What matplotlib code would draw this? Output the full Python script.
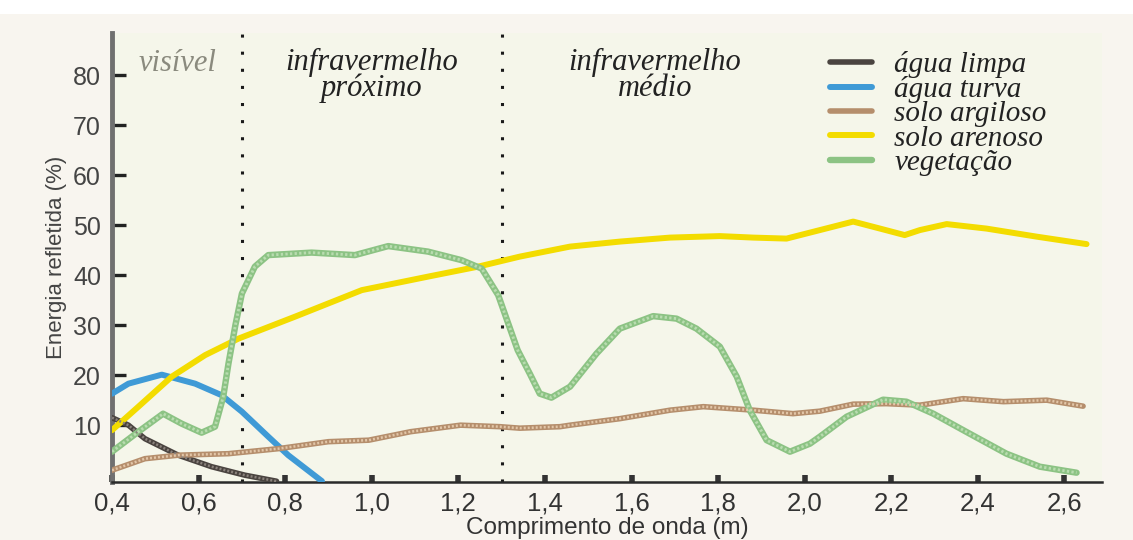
import matplotlib
matplotlib.use("Agg")
import matplotlib.pyplot as plt
from matplotlib.patches import Rectangle

# ---- data ----
x_limpa = [0.40, 0.438, 0.476, 0.553, 0.630, 0.707, 0.78]
y_limpa = [11.5, 10.0, 7.3, 4.0, 1.7, 0.0, -1.2]

x_turva = [0.40, 0.438, 0.515, 0.592, 0.653, 0.700, 0.761, 0.807, 0.885]
y_turva = [16.3, 18.3, 20.1, 18.3, 16.0, 12.7, 7.7, 4.0, -1.2]

x_argiloso = [0.40, 0.476, 0.553, 0.669, 0.784, 0.900, 0.993, 1.090, 1.205, 1.296,
              1.342, 1.435, 1.458, 1.573, 1.689, 1.766, 1.881, 1.973, 2.035, 2.112,
              2.189, 2.266, 2.366, 2.459, 2.559, 2.643]
y_argiloso = [1.0, 3.3, 4.0, 4.3, 5.3, 6.7, 7.0, 8.7, 10.0, 9.7,
              9.4, 9.7, 10.0, 11.3, 13.0, 13.7, 13.0, 12.3, 12.8, 14.2,
              14.3, 14.0, 15.3, 14.7, 15.0, 13.8]

x_arenoso = [0.40, 0.461, 0.538, 0.615, 0.692, 0.823, 0.977, 1.130, 1.246, 1.342,
             1.458, 1.573, 1.689, 1.804, 1.881, 1.958, 2.035, 2.112, 2.174, 2.231,
             2.266, 2.328, 2.420, 2.535, 2.651]
y_arenoso = [9.0, 13.7, 19.7, 24.0, 27.3, 31.7, 37.0, 39.7, 41.7, 43.7,
             45.7, 46.7, 47.5, 47.8, 47.5, 47.3, 49.0, 50.7, 49.3, 48.0,
             49.0, 50.2, 49.3, 47.7, 46.2]

x_veg = [0.40, 0.461, 0.518, 0.561, 0.607, 0.638, 0.657, 0.669, 0.685, 0.700,
         0.730, 0.761, 0.861, 0.961, 1.038, 1.130, 1.207, 1.254, 1.292, 1.337,
         1.365, 1.388, 1.415, 1.458, 1.519, 1.573, 1.650, 1.704, 1.750, 1.804,
         1.843, 1.873, 1.912, 1.966, 2.012, 2.035, 2.097, 2.181, 2.235, 2.297,
         2.381, 2.466, 2.543, 2.628]
y_veg = [4.7, 8.7, 12.3, 10.3, 8.5, 9.7, 15.7, 22.3, 30.0, 36.3,
         41.7, 44.0, 44.5, 44.0, 45.8, 44.7, 43.0, 41.3, 36.0, 25.0,
         20.3, 16.3, 15.5, 17.7, 24.3, 29.3, 31.8, 31.3, 29.3, 25.7,
         19.7, 13.0, 7.0, 4.7, 6.3, 7.7, 11.7, 15.1, 14.7, 12.3,
         8.3, 4.3, 1.7, 0.5]

region_bounds = [0.70, 1.30]
x_ticks = [0.4, 0.6, 0.8, 1.0, 1.2, 1.4, 1.6, 1.8, 2.0, 2.2, 2.4, 2.6]
x_ticklabels = ["0,4", "0,6", "0,8", "1,0", "1,2", "1,4", "1,6", "1,8", "2,0", "2,2", "2,4", "2,6"]
y_ticks = [10, 20, 30, 40, 50, 60, 70, 80]
labels = ["água limpa", "água turva", "solo argiloso", "solo arenoso", "vegetação"]

# ---- figure ----
fig = plt.figure(figsize=(11.33, 5.40), dpi=100, facecolor="#f8f5ef")
fig.patches.append(Rectangle((0, 1 - 14 / 540), 1, 14 / 540, transform=fig.transFigure,
                             facecolor="white", edgecolor="none", zorder=0))
ax = fig.add_axes([112 / 1133, 1 - 481.7 / 540, 989.7 / 1133, 448.7 / 540])
ax.set_facecolor("#f5f6ea")
ax.set_xlim(0.4, 2.686)
ax.set_ylim(-1.3, 88.4)

serif = ["Liberation Serif", "DejaVu Serif"]
sans = ["Liberation Sans", "DejaVu Sans"]

# region dividers
for b in region_bounds:
    ax.axvline(b, color="#1a1a1a", lw=2.2, linestyle=(0, (1, 4.6)), zorder=2)


def braided(x, y, base, light, lw, label):
    ln, = ax.plot(x, y, color=base, lw=lw, solid_capstyle="round",
                  solid_joinstyle="round", zorder=3, label=label)
    ax.plot(x, y, color=light, lw=lw * 0.45, linestyle=(0, (0.8, 0.8)),
            zorder=4)
    return ln


h1 = braided(x_limpa, y_limpa, "#4a4440", "#8a827c", 4.0, labels[0])
h2, = ax.plot(x_turva, y_turva, color="#3f9ad6", lw=4.3, solid_capstyle="round",
              solid_joinstyle="round", zorder=3, label=labels[1])
h3 = braided(x_argiloso, y_argiloso, "#b58e6c", "#e2c6a8", 4.0, labels[2])
h4, = ax.plot(x_arenoso, y_arenoso, color="#f3dc00", lw=4.3, solid_capstyle="round",
              solid_joinstyle="round", zorder=3, label=labels[3])
h5 = braided(x_veg, y_veg, "#8cc384", "#b9dcb0", 4.6, labels[4])

# axes styling
for s in ["top", "right"]:
    ax.spines[s].set_visible(False)
ax.spines["left"].set_color("#707070")
ax.spines["left"].set_linewidth(3.5)
ax.spines["bottom"].set_color("#2a2a2a")
ax.spines["bottom"].set_linewidth(1.8)

ax.set_xticks(x_ticks)
ax.set_xticklabels(x_ticklabels)
ax.set_yticks(y_ticks)
ax.tick_params(axis="x", direction="in", length=5, width=4, color="#333333",
               pad=7, labelsize=18.5, labelcolor="#333333")
ax.tick_params(axis="y", direction="in", length=10, width=2.4, color="#222222",
               pad=8, labelsize=18, labelcolor="#444444")
for t in ax.get_xticklabels() + ax.get_yticklabels():
    t.set_family(sans)

ax.set_xlabel("Comprimento de onda (m)", fontsize=17.5, family=sans,
              color="#333333", labelpad=1)
ax.set_ylabel("Energia refletida (%)", fontsize=16, family=sans,
              color="#444444", labelpad=4)

# region labels
ax.text(0.552, 82.4, "visível", fontsize=22, family=serif, style="italic",
        color="#8a8a7e", ha="center", va="center", zorder=5)
ax.text(1.0, 79.9, "infravermelho\npróximo", fontsize=22, family=serif,
        style="italic", color="#222222", ha="center", va="center",
        linespacing=0.88, zorder=5)
ax.text(1.654, 79.9, "infravermelho\nmédio", fontsize=22, family=serif,
        style="italic", color="#222222", ha="center", va="center",
        linespacing=0.88, zorder=5)

leg = fig.legend(handles=[h1, h2, h3, h4, h5], labels=labels,
                 loc="upper left", bbox_to_anchor=(830 / 1133, 1 - 51 / 540),
                 frameon=False, borderpad=0, borderaxespad=0,
                 handlelength=1.45, handletextpad=0.75, labelspacing=-0.07,
                 prop={"family": serif, "style": "italic", "size": 21})
for t in leg.get_texts():
    t.set_color("#222222")

fig.savefig("out.png", dpi=100, facecolor=fig.get_facecolor())
